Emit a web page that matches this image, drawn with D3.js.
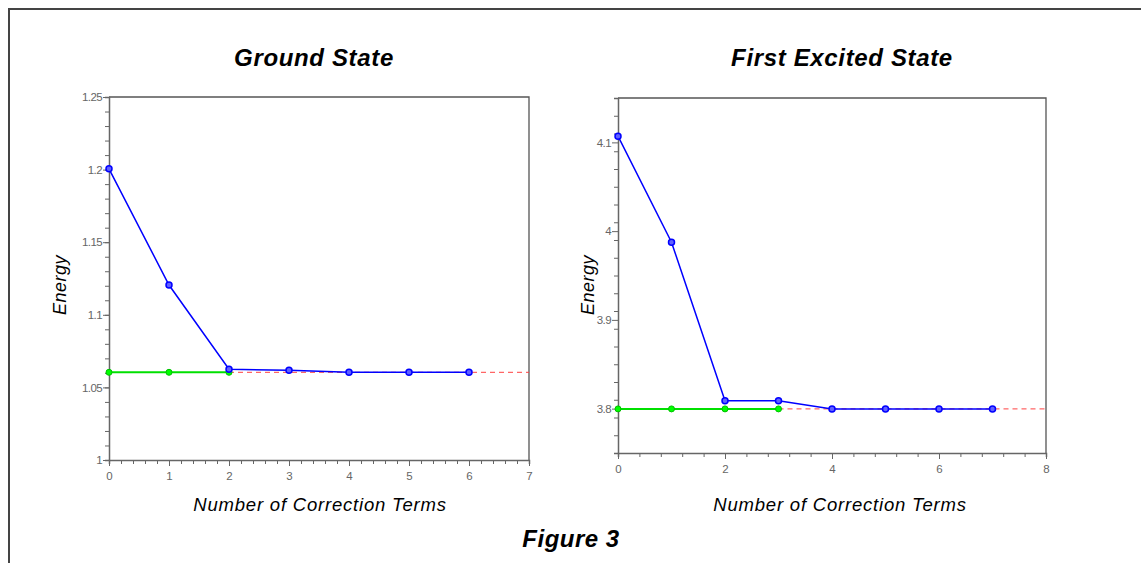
<!DOCTYPE html>
<html>
<head>
<meta charset="utf-8">
<script src="https://cdn.jsdelivr.net/npm/d3@7"></script>
<style>
  body { margin: 0; background: #fff; }
  svg { display: block; }
  .tick text { font-family: "Liberation Sans", Arial, sans-serif; fill: #666; }
</style>
</head>
<body>
<div id="chart"></div>
<script>
// ground state
var gsTerms = [0, 1, 2, 3, 4, 5, 6];
var gsEnergy = [1.2005, 1.1205, 1.0625, 1.0618, 1.0604, 1.0604, 1.0604];
var gsExactTerms = [0, 1, 2];
var gsExact = 1.0604;
var gsXTicks = [0, 1, 2, 3, 4, 5, 6, 7];
var gsYTicks = [1, 1.05, 1.1, 1.15, 1.2, 1.25];
var gsYLabels = ["1", "1.05", "1.1", "1.15", "1.2", "1.25"];

// first excited state
var esTerms = [0, 1, 2, 3, 4, 5, 6, 7];
var esEnergy = [4.107, 3.9875, 3.809, 3.809, 3.7997, 3.7997, 3.7997, 3.7997];
var esExactTerms = [0, 1, 2, 3];
var esExact = 3.7997;
var esXTicks = [0, 2, 4, 6, 8];
var esYTicks = [3.8, 3.9, 4, 4.1];
var esYLabels = ["3.8", "3.9", "4", "4.1"];

var W = 1141, H = 563;
var svg = d3.select("#chart").append("svg")
    .attr("width", W)
    .attr("height", H);

// outer frame (only top and left edges show)
svg.append("path")
  .attr("d", "M9,563 V9 H1141")
  .attr("fill", "none")
  .attr("stroke", "#444")
  .attr("stroke-width", 2);

function panel(opt) {
  var x = d3.scaleLinear().domain(opt.xDomain).range([opt.left, opt.right]);
  var y = d3.scaleLinear().domain(opt.yDomain).range([opt.bottom, opt.top]);
  var g = svg.append("g");

  // top + right frame
  g.append("path")
    .attr("d", `M${opt.left},${opt.top} H${opt.right} V${opt.bottom}`)
    .attr("fill", "none")
    .attr("stroke", "#555")
    .attr("stroke-width", 1.3);

  // minor ticks
  var xMinor = d3.axisBottom(x).tickValues(d3.range(opt.xDomain[0], opt.xDomain[1] + 1e-9, opt.xMinor)).tickSize(4).tickFormat("");
  var yMinor = d3.axisLeft(y).tickValues(d3.range(opt.yDomain[0], opt.yDomain[1] + 1e-9, opt.yMinor)).tickSize(4).tickFormat("");

  g.append("g")
    .attr("transform", `translate(0,${opt.bottom})`)
    .call(xMinor)
    .call(s => s.selectAll("line").attr("stroke", "#666"))
    .call(s => s.select(".domain").attr("stroke", "#666").attr("stroke-width", 1.5));

  g.append("g")
    .attr("transform", `translate(${opt.left},0)`)
    .call(yMinor)
    .call(s => s.selectAll("line").attr("stroke", "#666"))
    .call(s => s.select(".domain").attr("stroke", "#666").attr("stroke-width", 1.5));

  // major ticks with labels
  g.append("g")
    .attr("transform", `translate(0,${opt.bottom})`)
    .call(d3.axisBottom(x).tickValues(opt.xTicks).tickSize(6).tickPadding(6).tickFormat(d3.format("d")))
    .call(s => s.select(".domain").remove())
    .call(s => s.selectAll("line").attr("stroke", "#666"))
    .call(s => s.selectAll("text").attr("font-size", 11.5).attr("fill", "#666"));

  g.append("g")
    .attr("transform", `translate(${opt.left},0)`)
    .call(d3.axisLeft(y).tickValues(opt.yTicks).tickSize(6).tickPadding(1).tickFormat((d, i) => opt.yLabels[i]))
    .call(s => s.select(".domain").remove())
    .call(s => s.selectAll("line").attr("stroke", "#666"))
    .call(s => s.selectAll("text").attr("font-size", 11.5).attr("fill", "#666").attr("letter-spacing", -0.6));

  // exact value, red dashed
  g.append("line")
    .attr("x1", x(opt.exactTerms[opt.exactTerms.length - 1]))
    .attr("x2", x(opt.xDomain[1]))
    .attr("y1", y(opt.exact))
    .attr("y2", y(opt.exact))
    .attr("stroke", "#ff4040")
    .attr("stroke-width", 1)
    .attr("stroke-dasharray", "5,4");

  var line = d3.line().x(d => x(d[0])).y(d => y(d[1]));

  // blue approximations
  var blue = opt.terms.map((t, i) => [t, opt.energy[i]]);
  g.append("path")
    .attr("d", line(blue))
    .attr("fill", "none")
    .attr("stroke", "#0000ff")
    .attr("stroke-width", 1.5);

  // green exact
  var green = opt.exactTerms.map(t => [t, opt.exact]);
  g.append("path")
    .attr("d", line(green))
    .attr("fill", "none")
    .attr("stroke", "#00e000")
    .attr("stroke-width", 2);

  g.selectAll(".gdot").data(green).enter().append("circle")
    .attr("cx", d => x(d[0]))
    .attr("cy", d => y(d[1]))
    .attr("r", 3)
    .attr("fill", "#00ff00")
    .attr("stroke", "#00c000")
    .attr("stroke-width", 1);

  g.selectAll(".bdot").data(blue).enter().append("circle")
    .attr("cx", d => x(d[0]))
    .attr("cy", d => y(d[1]))
    .attr("r", 3)
    .attr("fill", "#6060ff")
    .attr("stroke", "#0000ff")
    .attr("stroke-width", 1.5);

  // titles
  g.append("text")
    .attr("x", opt.titleX)
    .attr("y", 66)
    .attr("text-anchor", "middle")
    .attr("font-family", "Liberation Sans, Arial, sans-serif")
    .attr("font-size", 24)
    .attr("font-weight", "bold")
    .attr("font-style", "italic")
    .attr("letter-spacing", 0.65)
    .text(opt.title);

  g.append("text")
    .attr("x", opt.xLabelX)
    .attr("y", 511)
    .attr("text-anchor", "middle")
    .attr("font-family", "Liberation Sans, Arial, sans-serif")
    .attr("font-size", 18.5)
    .attr("font-style", "italic")
    .attr("letter-spacing", 0.8)
    .text("Number of Correction Terms");

  g.append("text")
    .attr("transform", `translate(${opt.yLabelX},285) rotate(-90)`)
    .attr("text-anchor", "middle")
    .attr("font-family", "Liberation Sans, Arial, sans-serif")
    .attr("font-size", 18)
    .attr("font-style", "italic")
    .attr("letter-spacing", 0.5)
    .text("Energy");
}

panel({
  left: 109, right: 529, top: 97, bottom: 460,
  xDomain: [0, 7], yDomain: [1, 1.25],
  xMinor: 0.2, yMinor: 0.01,
  xTicks: gsXTicks, yTicks: gsYTicks, yLabels: gsYLabels,
  terms: gsTerms, energy: gsEnergy,
  exactTerms: gsExactTerms, exact: gsExact,
  title: "Ground State", titleX: 314, xLabelX: 320, yLabelX: 66
});

panel({
  left: 618, right: 1046, top: 98, bottom: 453,
  xDomain: [0, 8], yDomain: [3.75, 4.15],
  xMinor: 0.4, yMinor: 0.02,
  xTicks: esXTicks, yTicks: esYTicks, yLabels: esYLabels,
  terms: esTerms, energy: esEnergy,
  exactTerms: esExactTerms, exact: esExact,
  title: "First Excited State", titleX: 842, xLabelX: 840, yLabelX: 594
});

svg.append("text")
  .attr("x", 571)
  .attr("y", 547)
  .attr("text-anchor", "middle")
  .attr("font-family", "Liberation Sans, Arial, sans-serif")
  .attr("font-size", 24)
  .attr("font-weight", "bold")
  .attr("font-style", "italic")
  .attr("letter-spacing", 0.5)
  .text("Figure 3");
</script>
</body>
</html>
